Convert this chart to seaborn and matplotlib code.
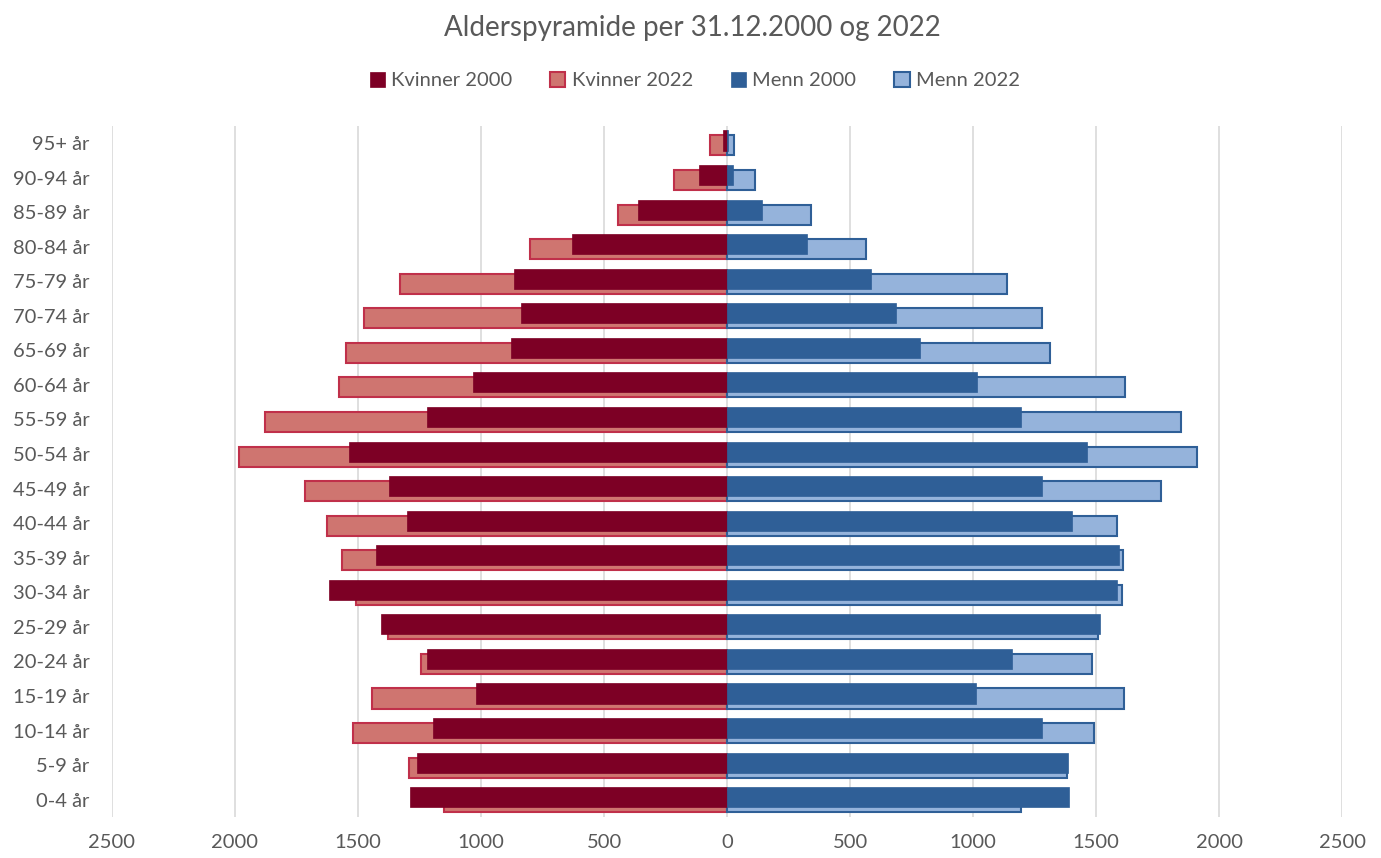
import matplotlib
matplotlib.use("Agg")
import matplotlib.pyplot as plt
import seaborn as sns
import numpy as np
from matplotlib.patches import Patch
from matplotlib.ticker import FuncFormatter, MultipleLocator

ages = ["0-4 år", "5-9 år", "10-14 år", "15-19 år", "20-24 år", "25-29 år",
        "30-34 år", "35-39 år", "40-44 år", "45-49 år", "50-54 år", "55-59 år",
        "60-64 år", "65-69 år", "70-74 år", "75-79 år", "80-84 år", "85-89 år",
        "90-94 år", "95+ år"]
kvinner_2000 = [1288, 1259, 1194, 1019, 1218, 1406, 1618, 1428, 1300, 1373, 1536, 1218,
                1031, 880, 837, 864, 632, 363, 114, 18]
kvinner_2022 = [1149, 1292, 1520, 1443, 1243, 1377, 1508, 1564, 1627, 1715, 1984, 1876,
                1577, 1548, 1475, 1328, 799, 444, 216, 69]
menn_2000 = [1390, 1385, 1280, 1010, 1157, 1516, 1585, 1593, 1402, 1280, 1463, 1195,
             1014, 782, 685, 585, 325, 140, 26, 3]
menn_2022 = [1194, 1381, 1491, 1614, 1483, 1508, 1605, 1609, 1585, 1763, 1910, 1845,
             1617, 1313, 1280, 1137, 563, 340, 114, 30]

title = "Alderspyramide per 31.12.2000 og 2022"
labels = ["Kvinner 2000", "Kvinner 2022", "Menn 2000", "Menn 2022"]

C_K00 = "#7D0025"
C_K22 = "#CF7570"
E_K22 = "#C0304A"
C_M00 = "#2F5F97"
C_M22 = "#95B3DB"
E_M22 = "#2F5F97"

sns.set_theme(style="white")
plt.rcParams['font.family'] = ['Lato', 'DejaVu Sans']

fig = plt.figure(figsize=(13.81, 8.58), dpi=100)
ax = fig.add_axes([0.081, 0.0478, 0.891, 0.8057])

order = ages[::-1]
BAR_H = 0.58
OFF = 0.072

def draw(values, sign, color, edge, lw, shift):
    n0 = len(ax.patches)
    sns.barplot(x=[sign * v for v in values], y=ages, order=order, orient="h",
                color=color, edgecolor=edge, linewidth=lw, width=BAR_H,
                errorbar=None, saturation=1, ax=ax, zorder=3)
    for p in ax.patches[n0:]:
        p.set_y(p.get_y() + shift)

draw(kvinner_2022, -1, C_K22, E_K22, 1.5, OFF)
draw(menn_2022, 1, C_M22, E_M22, 1.5, OFF)
draw(kvinner_2000, -1, C_K00, C_K00, 0.5, -OFF)
draw(menn_2000, 1, C_M00, C_M00, 0.5, -OFF)

ax.set_xlim(-2500, 2500)
ax.set_ylim(len(ages) - 0.5, -0.5)
ax.xaxis.set_major_locator(MultipleLocator(500))
ax.xaxis.set_major_formatter(FuncFormatter(lambda v, p: f"{abs(int(round(v)))}"))
ax.grid(axis="x", color="#D9D9D9", linewidth=1.2, zorder=0)
ax.grid(axis="y", visible=False)
ax.set_axisbelow(True)
for s in ax.spines.values():
    s.set_visible(False)
ax.set_xlabel("")
ax.set_ylabel("")
ax.tick_params(axis="both", length=0, labelsize=14.5, colors="#595959")
ax.tick_params(axis="y", pad=16)
ax.tick_params(axis="x", pad=12)

fig.text(0.501, 0.967, title, ha="center", va="center", fontsize=20, color="#595959")

handles = [Patch(facecolor=C_K00, edgecolor=C_K00, linewidth=0.5),
           Patch(facecolor=C_K22, edgecolor=E_K22, linewidth=1.5),
           Patch(facecolor=C_M00, edgecolor=C_M00, linewidth=0.5),
           Patch(facecolor=C_M22, edgecolor=E_M22, linewidth=1.5)]
leg = fig.legend(handles, labels, loc="center", bbox_to_anchor=(0.503, 0.906), ncol=4,
                 frameon=False, fontsize=14.5, handlelength=0.75, handleheight=0.75,
                 handletextpad=0.3, columnspacing=1.9)
for t in leg.get_texts():
    t.set_color("#595959")

fig.savefig("out.png", dpi=100)
